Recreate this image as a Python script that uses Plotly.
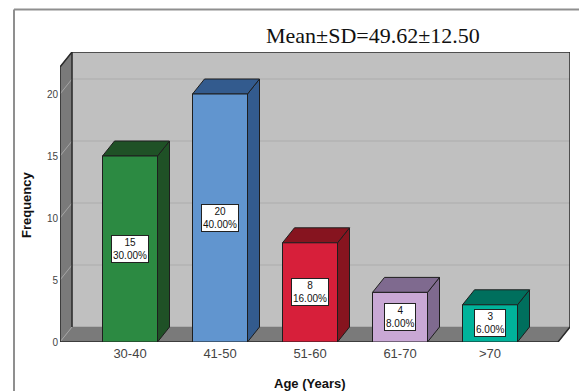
import plotly.graph_objects as go

# ---------------- data ----------------
categories = ["30-40", "41-50", "51-60", "61-70", ">70"]
frequency = [15, 20, 8, 4, 3]
percent = [30.00, 40.00, 16.00, 8.00, 6.00]
y_ticks = [0, 5, 10, 15, 20]
title_text = "Mean\u00b1SD=49.62\u00b112.50"

front_colors = ["#2c8a42", "#6195cf", "#d71f3a", "#c9a8d5", "#00b39b"]
dark_colors = ["#1f5126", "#335b8e", "#86141f", "#7f6a8f", "#006f5d"]

# ---------------- geometry (3-D look) ----------------
PX_X = 90.0          # pixels per category
PX_Y = 12.4          # pixels per frequency unit
W, H = 579, 391
ML, MR, MT, MB = 60, 9, 52, 49
plot_w = W - ML - MR
plot_h = H - MT - MB

x0 = -70.0 / PX_X                      # front-left edge of floor
x_rng = [x0, x0 + plot_w / PX_X]
y_rng = [0, plot_h / PX_Y]
dx = 12.0 / PX_X                       # depth offsets
dy = 15.0 / PX_Y
x_front_right = x_rng[1] - dx
y_top = y_rng[1]
bar_w = 55.0 / PX_X

EDGE = "#1e1e1e"
fig = go.Figure()


def poly(xs, ys, fill, line=EDGE, lw=1):
    fig.add_trace(go.Scatter(
        x=list(xs) + [xs[0]], y=list(ys) + [ys[0]], mode="lines",
        fill="toself", fillcolor=fill, line=dict(color=line, width=lw),
        hoverinfo="skip", showlegend=False))


def seg(xs, ys, color, lw=1):
    fig.add_trace(go.Scatter(x=xs, y=ys, mode="lines",
                             line=dict(color=color, width=lw),
                             hoverinfo="skip", showlegend=False))


# back wall
poly([x0 + dx, x_rng[1], x_rng[1], x0 + dx], [dy, dy, y_top, y_top], "#c0c0c0", line="#c0c0c0", lw=0.5)
# left wall
poly([x0, x0 + dx, x0 + dx, x0], [0, dy, y_top, y_top - dy], "#7a7a7a", line="#7a7a7a", lw=0.5)
# floor
poly([x0, x_front_right, x_rng[1], x0 + dx], [0, 0, dy, dy], "#7a7a7a", line="#7a7a7a", lw=0.5)

# grid lines
for t in y_ticks[1:]:
    seg([x0 + dx, x_rng[1]], [t + dy, t + dy], "#acacac", 1)
    seg([x0, x0 + dx], [t, t + dy], "#a5a5a5", 1)
seg([x0, x0 + dx], [0, dy], "#a5a5a5", 1)

# box edges
seg([x0, x0, x0 + dx, x_rng[1], x_rng[1]], [0, y_top - dy, y_top, y_top, dy], "#2a2a2a", 1.5)
seg([x0 + dx, x0 + dx], [dy, y_top], "#2a2a2a", 1.5)
seg([x0, x_front_right, x_rng[1]], [0, 0, dy], "#2a2a2a", 1.5)

# bars
for i, v in enumerate(frequency):
    xl, xr = i - bar_w / 2, i + bar_w / 2
    poly([xr, xr + dx, xr + dx, xr], [0, dy, v + dy, v], dark_colors[i])
    poly([xl, xr, xr + dx, xl + dx], [v, v, v + dy, v + dy], dark_colors[i])
    poly([xl, xr, xr, xl], [0, 0, v, v], front_colors[i])

annotations = []
for i, (v, p) in enumerate(zip(frequency, percent)):
    annotations.append(dict(
        x=i, y=v / 2, xref="x", yref="y", text=f"{v}<br>{p:.2f}%",
        showarrow=False, bgcolor="white", bordercolor="#222", borderwidth=1,
        borderpad=1, font=dict(family="Liberation Sans, Arial", size=10, color="#111")))

annotations.append(dict(
    x=(372.5 - ML) / plot_w, y=(H - MB - 35) / plot_h, xref="paper", yref="paper",
    text=title_text, showarrow=False, xanchor="center", yanchor="middle",
    font=dict(family="Liberation Serif, Times New Roman", size=22, color="#111")))
annotations.append(dict(
    x=(26 - ML) / plot_w, y=(H - MB - 205) / plot_h, xref="paper", yref="paper",
    text="<b>Frequency</b>", showarrow=False, textangle=-90,
    xanchor="center", yanchor="middle",
    font=dict(family="Liberation Sans, Arial", size=13, color="#111")))
annotations.append(dict(
    x=(310 - ML) / plot_w, y=(H - MB - 383) / plot_h, xref="paper", yref="paper",
    text="<b>Age (Years)</b>", showarrow=False,
    xanchor="center", yanchor="middle",
    font=dict(family="Liberation Sans, Arial", size=13, color="#111")))

shapes = [
    dict(type="line", xref="paper", yref="paper",
         x0=(14 - ML) / plot_w, x1=(W + 5 - ML) / plot_w,
         y0=(H - MB - 9.5) / plot_h, y1=(H - MB - 9.5) / plot_h,
         line=dict(color="#8f8f8f", width=2)),
    dict(type="line", xref="paper", yref="paper",
         x0=(14 - ML) / plot_w, x1=(14 - ML) / plot_w,
         y0=(H - MB - 9.5) / plot_h, y1=(H - MB - H - 5) / plot_h,
         line=dict(color="#8f8f8f", width=2)),
]

fig.update_layout(
    width=W, height=H, margin=dict(l=ML, r=MR, t=MT, b=MB),
    paper_bgcolor="white", plot_bgcolor="white",
    xaxis=dict(range=x_rng, tickvals=list(range(len(categories))), ticktext=categories,
               showgrid=False, zeroline=False, showline=False, ticks="",
               ticklabelstandoff=2,
               tickfont=dict(family="Liberation Sans, Arial", size=13, color="#444"),
               fixedrange=True),
    yaxis=dict(range=y_rng, tickvals=y_ticks, showgrid=False, zeroline=False,
               showline=False, ticks="", ticklabelstandoff=1,
               tickfont=dict(family="Liberation Sans, Arial", size=10, color="#444"),
               fixedrange=True),
    annotations=annotations, shapes=shapes, showlegend=False,
)

fig.write_html("out.html", config={"displayModeBar": False},
               post_script="document.body.style.margin='0';document.body.style.overflow='hidden';")
